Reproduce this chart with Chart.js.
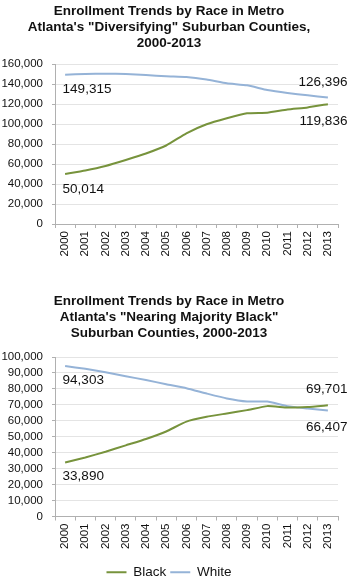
<!DOCTYPE html>
<html>
<head>
<meta charset="utf-8">
<script src="https://cdn.jsdelivr.net/npm/chart.js@4.4.1/dist/chart.umd.min.js"></script>
<style>
  html, body { margin:0; padding:0; background:#fff; }
  .box { position:relative; width:350px; }
  #boxTop { height:290px; }
  #boxBot { height:289px; }
</style>
</head>
<body>
<div class="box" id="boxTop"><canvas id="chartTop"></canvas></div>
<div class="box" id="boxBot"><canvas id="chartBot"></canvas></div>
<script>
// Datos
const years = ['2000','2001','2002','2003','2004','2005','2006','2007','2008','2009','2010','2011','2012','2013'];

// "Diversifying" suburban counties
const divBlack = [50014, 53500, 58000, 64000, 70500, 78500, 90700, 99700, 105700, 110700, 111300, 114500, 116500, 119836];
const divWhite = [149315, 150000, 150300, 150000, 149000, 147700, 147000, 144500, 140700, 138700, 134000, 131000, 128700, 126396];

// "Nearing Majority Black" suburban counties
const nmbBlack = [33890, 37000, 40600, 44600, 48600, 53300, 59500, 62500, 64600, 66700, 69200, 68300, 68700, 69701];
const nmbWhite = [94303, 92600, 90400, 87900, 85600, 82900, 80400, 77100, 74000, 72100, 72100, 69200, 67700, 66407];

const titleTop = ['Enrollment Trends by Race in Metro', 'Atlanta\'s "Diversifying" Suburban Counties,', '2000-2013'];
const titleBot = ['Enrollment Trends by Race in Metro', 'Atlanta\'s "Nearing Majority Black"', 'Suburban Counties, 2000-2013'];

const GREEN = '#77933C';
const BLUE  = '#95B3D7';
const FONT  = '"Liberation Sans", Arial, Helvetica, sans-serif';

// Etiquetas de valor en el primer y último punto: [dataset, índice, lado, desplazamiento vertical]
const annTop = [[1, 0, 'left', 15], [1, 13, 'right', -15], [0, 0, 'left', 15], [0, 13, 'right', 17]];
const annBot = [[1, 0, 'left', 14], [0, 13, 'right', -16], [1, 13, 'right', 17], [0, 0, 'left', 14]];

const valueLabels = {
  id: 'valueLabels',
  afterDatasetsDraw(chart, args, opts){
    const ctx = chart.ctx;
    ctx.save();
    ctx.font = '13.5px ' + FONT;
    ctx.fillStyle = '#111';
    ctx.textBaseline = 'middle';
    (opts.items || []).forEach(([ds, i, side, dy])=>{
      const pt = chart.getDatasetMeta(ds).data[i];
      const v = chart.data.datasets[ds].data[i];
      const txt = v.toLocaleString('en-US');
      if(side === 'left'){
        ctx.textAlign = 'left';
        ctx.fillText(txt, pt.x - 2.5, pt.y + dy);
      } else {
        ctx.textAlign = 'right';
        ctx.fillText(txt, pt.x + 19.5, pt.y + dy);
      }
    });
    ctx.restore();
  }
};

function makeChart(id, title, black, white, yMax, yStep, ann, withLegend){
  return new Chart(document.getElementById(id), {
    type: 'line',
    data: {
      labels: years,
      datasets: [
        { label:'Black', data: black, borderColor: GREEN, backgroundColor: GREEN, borderWidth: 2, pointRadius: 0, tension: 0.15 },
        { label:'White', data: white, borderColor: BLUE,  backgroundColor: BLUE,  borderWidth: 2, pointRadius: 0, tension: 0.15 }
      ]
    },
    options: {
      responsive: true,
      maintainAspectRatio: false,
      animation: false,
      layout: { padding: { left: 0, right: 12, top: 0, bottom: withLegend ? -10 : 0 } },
      plugins: {
        title: {
          display: true,
          text: title,
          color: '#111',
          font: { family: FONT, size: 13.5, weight: 'bold', lineHeight: '16px' },
          padding: { top: 3, bottom: withLegend ? 16 : 13 }
        },
        legend: {
          display: withLegend,
          position: 'bottom',
          labels: {
            usePointStyle: true,
            pointStyle: 'line',
            pointStyleWidth: 20,
            color: '#111',
            font: { family: FONT, size: 13.5 },
            padding: 4
          }
        },
        tooltip: { enabled: false },
        valueLabels: { items: ann }
      },
      scales: {
        x: {
          offset: true,
          grid: { display: true, drawOnChartArea: false, drawTicks: true, tickLength: 4, color: '#b0b0b0', offset: true },
          border: { color: '#b0b0b0' },
          ticks: { color: '#111', font: { family: FONT, size: 11.5 }, minRotation: 90, maxRotation: 90, autoSkip: false, padding: 3 },
          afterFit: (s)=>{ s.height = withLegend ? 45 : 66; }
        },
        y: {
          min: 0, max: yMax,
          grid: { color: '#e4e4e4', tickLength: 3, tickColor: '#b0b0b0' },
          border: { color: '#b0b0b0' },
          ticks: { stepSize: yStep, autoSkip: false, color: '#111', font: { family: FONT, size: 11.5 }, padding: 9,
                   callback: (v)=> v.toLocaleString('en-US') },
          afterFit: (s)=>{ s.width = 55; }
        }
      }
    },
    plugins: [valueLabels]
  });
}

makeChart('chartTop', titleTop, divBlack, divWhite, 160000, 20000, annTop, false);
makeChart('chartBot', titleBot, nmbBlack, nmbWhite, 100000, 10000, annBot, true);
</script>
</body>
</html>
